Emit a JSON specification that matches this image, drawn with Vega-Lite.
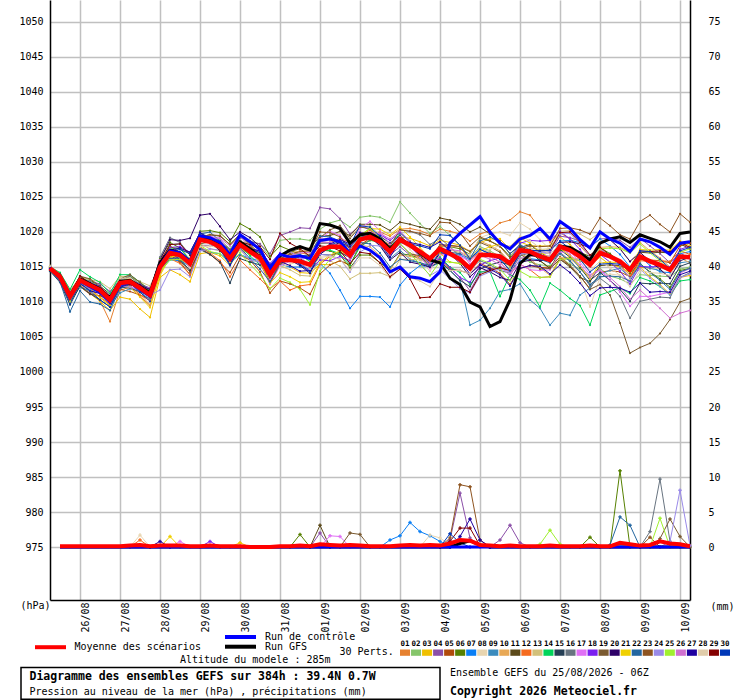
{
  "$schema": "https://vega.github.io/schema/vega-lite/v6.json",
  "width": 640,
  "height": 600,
  "autosize": "none",
  "padding": {"left": 50, "top": 0, "right": 50, "bottom": 100},
  "background": "white",
  "config": {"view": {"stroke": null}},
  "datasets": {
    "pres": [
      {"m": "01", "h": [0,6,12,18,24,30,36,42,48,54,60,66,72,78,84,90,96,102,108,114,120,126,132,138,144,150,156,162,168,174,180,186,192,198,204,210,216,222,228,234,240,246,252,258,264,270,276,282,288,294,300,306,312,318,324,330,336,342,348,354,360,366,372,378,384],
       "p": [1014.8,1013.1,1010.0,1012.4,1011.4,1010.2,1007.2,1011.7,1012.1,1010.8,1009.5,1014.2,1016.5,1016.4,1014.9,1019.2,1019.1,1018.1,1015.8,1018.8,1017.6,1017.1,1014.9,1016.5,1016.8,1017.0,1016.8,1018.4,1018.5,1019.1,1018.5,1019.9,1019.8,1020.0,1019.4,1020.4,1020.5,1020.2,1019.6,1020.4,1020.1,1019.7,1018.7,1019.7,1020.2,1021.3,1021.7,1022.9,1022.4,1020.5,1018.5,1019.9,1019.0,1018.0,1016.5,1017.6,1016.5,1015.3,1013.8,1015.0,1014.8,1014.8,1014.9,1016.1,1016.8]},
      {"m": "02", "h": [0,6,12,18,24,30,36,42,48,54,60,66,72,78,84,90,96,102,108,114,120,126,132,138,144,150,156,162,168,174,180,186,192,198,204,210,216,222,228,234,240,246,252,258,264,270,276,282,288,294,300,306,312,318,324,330,336,342,348,354,360,366,372,378,384],
       "p": [1015.0,1013.9,1011.3,1013.7,1012.8,1011.9,1010.8,1013.6,1013.7,1012.6,1011.8,1015.5,1017.8,1017.7,1016.8,1019.5,1019.1,1018.9,1017.6,1019.4,1018.7,1018.3,1016.4,1018.8,1019.0,1019.0,1018.8,1020.4,1021.3,1021.7,1020.7,1022.1,1022.3,1022.1,1021.4,1024.3,1022.7,1021.2,1019.8,1020.8,1019.5,1018.1,1016.3,1017.9,1017.3,1016.5,1015.0,1016.4,1015.7,1015.3,1015.2,1016.4,1015.4,1014.7,1013.8,1014.8,1013.7,1013.3,1012.6,1013.9,1013.8,1013.7,1013.6,1014.7,1015.0]},
      {"m": "03", "h": [0,6,12,18,24,30,36,42,48,54,60,66,72,78,84,90,96,102,108,114,120,126,132,138,144,150,156,162,168,174,180,186,192,198,204,210,216,222,228,234,240,246,252,258,264,270,276,282,288,294,300,306,312,318,324,330,336,342,348,354,360,366,372,378,384],
       "p": [1014.5,1013.4,1010.0,1012.2,1011.2,1010.1,1008.8,1010.7,1010.4,1009.0,1007.8,1013.5,1014.6,1013.9,1012.9,1016.9,1017.1,1016.6,1015.2,1017.6,1016.8,1016.1,1014.2,1015.5,1015.0,1014.2,1014.1,1015.4,1015.3,1015.9,1015.2,1018.1,1018.8,1018.6,1017.8,1019.3,1019.1,1018.6,1018.0,1018.8,1018.5,1018.1,1017.2,1018.5,1019.0,1019.0,1017.5,1018.6,1018.0,1018.0,1018.0,1019.3,1018.2,1016.9,1015.3,1016.4,1015.3,1015.0,1014.2,1015.0,1013.6,1012.5,1011.1,1013.5,1013.8]},
      {"m": "04", "h": [0,6,12,18,24,30,36,42,48,54,60,66,72,78,84,90,96,102,108,114,120,126,132,138,144,150,156,162,168,174,180,186,192,198,204,210,216,222,228,234,240,246,252,258,264,270,276,282,288,294,300,306,312,318,324,330,336,342,348,354,360,366,372,378,384],
       "p": [1014.9,1014.0,1011.7,1013.3,1012.9,1012.6,1011.5,1013.2,1013.2,1012.6,1012.0,1015.3,1016.6,1016.1,1015.3,1018.1,1018.1,1018.1,1016.8,1019.2,1018.6,1018.3,1016.9,1019.5,1020.0,1020.6,1020.5,1023.5,1023.3,1021.9,1019.7,1020.9,1020.3,1018.9,1016.7,1017.9,1016.7,1016.2,1015.7,1016.2,1014.9,1013.5,1011.6,1014.2,1014.7,1015.0,1014.3,1016.8,1017.2,1017.0,1017.0,1019.4,1019.2,1018.7,1017.8,1019.0,1019.1,1018.8,1017.8,1019.1,1018.0,1016.9,1015.6,1017.0,1016.2]},
      {"m": "05", "h": [0,6,12,18,24,30,36,42,48,54,60,66,72,78,84,90,96,102,108,114,120,126,132,138,144,150,156,162,168,174,180,186,192,198,204,210,216,222,228,234,240,246,252,258,264,270,276,282,288,294,300,306,312,318,324,330,336,342,348,354,360,366,372,378,384],
       "p": [1014.6,1013.0,1010.5,1012.2,1011.1,1010.9,1010.1,1011.8,1011.5,1011.0,1010.5,1015.0,1016.4,1015.7,1013.9,1017.7,1016.8,1015.6,1014.2,1016.7,1016.0,1014.3,1011.3,1013.0,1012.6,1012.0,1011.1,1014.0,1015.3,1015.9,1015.3,1018.1,1019.1,1019.0,1018.2,1019.4,1018.1,1016.7,1015.2,1016.0,1014.7,1014.5,1014.0,1015.5,1014.9,1014.1,1012.5,1014.8,1015.2,1014.9,1015.0,1016.4,1015.2,1013.7,1011.9,1014.2,1014.5,1014.3,1013.6,1016.1,1016.0,1015.9,1015.6,1018.0,1018.4]},
      {"m": "06", "h": [0,6,12,18,24,30,36,42,48,54,60,66,72,78,84,90,96,102,108,114,120,126,132,138,144,150,156,162,168,174,180,186,192,198,204,210,216,222,228,234,240,246,252,258,264,270,276,282,288,294,300,306,312,318,324,330,336,342,348,354,360,366,372,378,384],
       "p": [1015.1,1013.7,1010.4,1013.6,1013.2,1012.1,1010.3,1012.9,1013.6,1012.9,1011.5,1016.2,1018.5,1017.7,1016.1,1020.1,1020.2,1019.9,1018.6,1021.2,1020.4,1019.3,1016.5,1018.0,1017.4,1016.8,1015.8,1017.4,1017.3,1016.7,1014.9,1016.7,1016.7,1015.6,1014.6,1016.9,1016.7,1016.2,1015.8,1017.9,1017.9,1017.6,1016.8,1019.1,1018.7,1018.0,1016.5,1017.9,1017.2,1015.9,1014.8,1017.3,1017.4,1017.1,1016.5,1017.8,1016.9,1015.8,1014.1,1015.5,1014.3,1013.3,1012.1,1014.5,1014.8]},
      {"m": "07", "h": [0,6,12,18,24,30,36,42,48,54,60,66,72,78,84,90,96,102,108,114,120,126,132,138,144,150,156,162,168,174,180,186,192,198,204,210,216,222,228,234,240,246,252,258,264,270,276,282,288,294,300,306,312,318,324,330,336,342,348,354,360,366,372,378,384],
       "p": [1014.4,1013.3,1011.0,1012.9,1011.8,1011.5,1010.7,1012.7,1012.5,1011.8,1011.2,1014.4,1016.0,1015.9,1015.1,1017.7,1017.1,1016.9,1015.6,1016.8,1016.2,1015.9,1014.3,1015.4,1015.0,1015.0,1014.8,1015.5,1014.1,1011.7,1009.1,1010.8,1010.8,1010.7,1009.3,1012.4,1014.1,1015.2,1015.0,1017.1,1016.9,1016.7,1016.0,1017.5,1016.9,1016.1,1014.5,1015.8,1016.2,1016.0,1016.2,1018.7,1018.8,1018.5,1017.9,1019.0,1018.0,1016.8,1015.0,1016.5,1015.2,1014.3,1014.2,1016.9,1017.2]},
      {"m": "08", "h": [0,6,12,18,24,30,36,42,48,54,60,66,72,78,84,90,96,102,108,114,120,126,132,138,144,150,156,162,168,174,180,186,192,198,204,210,216,222,228,234,240,246,252,258,264,270,276,282,288,294,300,306,312,318,324,330,336,342,348,354,360,366,372,378,384],
       "p": [1014.8,1013.8,1011.4,1013.4,1012.4,1011.4,1010.5,1013.3,1013.3,1012.0,1011.4,1015.2,1016.8,1017.1,1016.3,1019.2,1018.6,1018.4,1017.2,1018.8,1017.5,1016.3,1013.4,1015.0,1015.4,1015.8,1015.9,1018.4,1019.4,1019.9,1019.2,1020.9,1020.9,1019.6,1017.7,1018.9,1017.5,1016.0,1014.4,1016.6,1016.9,1017.1,1016.8,1019.2,1019.7,1020.0,1019.5,1021.3,1020.4,1018.9,1017.5,1018.4,1016.4,1013.5,1009.3,1013.5,1014.0,1013.8,1013.1,1014.7,1014.8,1014.8,1014.6,1016.1,1016.6]},
      {"m": "09", "h": [0,6,12,18,24,30,36,42,48,54,60,66,72,78,84,90,96,102,108,114,120,126,132,138,144,150,156,162,168,174,180,186,192,198,204,210,216,222,228,234,240,246,252,258,264,270,276,282,288,294,300,306,312,318,324,330,336,342,348,354,360,366,372,378,384],
       "p": [1014.7,1013.2,1010.2,1012.1,1011.6,1011.3,1009.4,1011.3,1011.9,1011.4,1010.4,1015.4,1018.2,1018.3,1016.7,1019.9,1019.2,1017.9,1015.6,1018.0,1017.6,1017.3,1015.3,1016.8,1016.2,1015.4,1014.3,1016.8,1017.9,1018.4,1017.7,1019.4,1019.3,1018.1,1016.2,1017.4,1016.1,1015.6,1015.0,1015.6,1014.5,1013.1,1006.7,1007.4,1009.1,1011.5,1011.8,1012.6,1010.3,1009.1,1006.7,1008.4,1008.1,1011.0,1012.0,1014.0,1014.5,1014.8,1013.5,1015.2,1014.8,1014.5,1013.6,1015.6,1015.8]},
      {"m": "10", "h": [0,6,12,18,24,30,36,42,48,54,60,66,72,78,84,90,96,102,108,114,120,126,132,138,144,150,156,162,168,174,180,186,192,198,204,210,216,222,228,234,240,246,252,258,264,270,276,282,288,294,300,306,312,318,324,330,336,342,348,354,360,366,372,378,384],
       "p": [1015.0,1013.5,1010.4,1012.5,1012.1,1011.9,1009.9,1011.9,1012.4,1011.1,1009.6,1014.0,1016.5,1016.7,1016.0,1019.1,1018.4,1018.2,1017.0,1019.7,1018.2,1016.8,1013.7,1016.4,1017.0,1017.3,1017.3,1019.0,1018.9,1018.3,1016.5,1018.1,1017.9,1016.6,1014.6,1016.7,1016.5,1016.2,1015.8,1018.0,1017.9,1017.9,1017.3,1018.7,1018.1,1017.3,1015.7,1017.0,1016.2,1014.9,1013.8,1016.3,1016.4,1016.1,1015.5,1017.8,1017.9,1017.8,1017.1,1018.5,1017.3,1016.3,1015.0,1016.3,1015.6]},
      {"m": "11", "h": [0,6,12,18,24,30,36,42,48,54,60,66,72,78,84,90,96,102,108,114,120,126,132,138,144,150,156,162,168,174,180,186,192,198,204,210,216,222,228,234,240,246,252,258,264,270,276,282,288,294,300,306,312,318,324,330,336,342,348,354,360,366,372,378,384],
       "p": [1014.9,1013.9,1010.8,1012.8,1012.6,1012.3,1011.1,1013.0,1012.7,1012.2,1011.6,1016.0,1017.6,1016.9,1015.2,1019.3,1019.6,1019.4,1018.2,1019.7,1018.2,1016.8,1013.9,1016.6,1017.2,1017.6,1017.7,1019.4,1019.5,1020.1,1019.5,1021.1,1021.1,1021.0,1020.2,1021.4,1021.1,1020.7,1020.4,1022.0,1021.7,1021.1,1020.0,1020.7,1019.7,1018.7,1016.9,1018.0,1017.2,1015.9,1014.8,1016.1,1015.0,1013.5,1012.9,1015.2,1015.3,1015.2,1014.6,1017.1,1017.0,1017.1,1017.0,1018.3,1017.6]},
      {"m": "12", "h": [0,6,12,18,24,30,36,42,48,54,60,66,72,78,84,90,96,102,108,114,120,126,132,138,144,150,156,162,168,174,180,186,192,198,204,210,216,222,228,234,240,246,252,258,264,270,276,282,288,294,300,306,312,318,324,330,336,342,348,354,360,366,372,378,384],
       "p": [1014.5,1013.5,1011.1,1013.0,1011.9,1010.7,1009.7,1012.5,1012.3,1011.0,1010.2,1014.6,1016.2,1015.5,1013.9,1017.9,1017.0,1015.9,1013.6,1016.0,1014.6,1013.3,1011.9,1013.0,1011.7,1012.3,1012.5,1015.4,1016.5,1017.1,1016.5,1019.3,1020.3,1019.2,1017.2,1018.3,1016.9,1016.4,1016.0,1018.1,1018.1,1017.9,1016.0,1017.2,1016.5,1015.7,1014.1,1015.4,1014.6,1013.5,1013.6,1016.1,1016.2,1015.9,1015.3,1017.5,1016.5,1015.2,1013.4,1015.9,1015.8,1015.9,1015.8,1017.3,1016.8]},
      {"m": "13", "h": [0,6,12,18,24,30,36,42,48,54,60,66,72,78,84,90,96,102,108,114,120,126,132,138,144,150,156,162,168,174,180,186,192,198,204,210,216,222,228,234,240,246,252,258,264,270,276,282,288,294,300,306,312,318,324,330,336,342,348,354,360,366,372,378,384],
       "p": [1015.2,1014.1,1011.7,1013.5,1013.2,1012.9,1011.9,1013.7,1013.5,1012.9,1012.3,1015.2,1016.5,1016.5,1015.8,1018.3,1017.6,1017.3,1016.2,1017.4,1016.0,1015.7,1013.9,1015.2,1014.6,1013.8,1013.7,1016.2,1015.9,1015.1,1013.3,1014.1,1014.1,1014.2,1013.6,1016.1,1016.1,1016.0,1015.6,1017.6,1017.4,1017.1,1016.4,1017.7,1017.1,1016.3,1014.7,1017.2,1017.7,1017.5,1017.6,1020.1,1020.2,1019.7,1018.9,1020.0,1018.9,1017.6,1015.8,1017.1,1015.8,1014.7,1013.4,1015.9,1016.4]},
      {"m": "14", "h": [0,6,12,18,24,30,36,42,48,54,60,66,72,78,84,90,96,102,108,114,120,126,132,138,144,150,156,162,168,174,180,186,192,198,204,210,216,222,228,234,240,246,252,258,264,270,276,282,288,294,300,306,312,318,324,330,336,342,348,354,360,366,372,378,384],
       "p": [1015.0,1014.2,1011.8,1014.6,1013.6,1012.8,1011.2,1013.9,1013.9,1012.8,1011.6,1015.3,1017.6,1017.6,1016.0,1018.9,1019.0,1018.7,1016.6,1018.0,1016.6,1015.3,1013.4,1016.0,1016.6,1016.8,1015.8,1017.4,1017.4,1016.9,1015.3,1017.9,1018.8,1018.6,1017.7,1019.9,1018.7,1017.2,1015.6,1016.4,1015.0,1014.2,1012.5,1014.3,1014.3,1010.8,1013.9,1013.2,1011.7,1009.3,1012.7,1011.7,1010.5,1009.5,1006.7,1011.0,1011.5,1012.0,1011.2,1013.5,1013.0,1012.2,1011.0,1013.0,1013.2]},
      {"m": "15", "h": [0,6,12,18,24,30,36,42,48,54,60,66,72,78,84,90,96,102,108,114,120,126,132,138,144,150,156,162,168,174,180,186,192,198,204,210,216,222,228,234,240,246,252,258,264,270,276,282,288,294,300,306,312,318,324,330,336,342,348,354,360,366,372,378,384],
       "p": [1014.4,1012.8,1009.6,1012.3,1011.2,1010.3,1009.3,1012.1,1012.0,1011.5,1010.8,1015.5,1017.0,1016.1,1014.5,1017.5,1016.8,1015.7,1012.7,1016.2,1015.7,1015.3,1013.5,1016.2,1016.8,1016.2,1015.3,1016.8,1016.7,1017.1,1016.3,1018.9,1019.7,1019.4,1018.4,1019.5,1018.1,1016.6,1015.0,1015.8,1014.5,1013.1,1012.2,1014.7,1015.3,1015.7,1015.3,1017.8,1018.2,1017.1,1016.2,1017.5,1016.4,1014.9,1013.1,1014.2,1013.1,1011.8,1010.1,1012.7,1012.6,1012.7,1012.6,1015.1,1015.6]},
      {"m": "16", "h": [0,6,12,18,24,30,36,42,48,54,60,66,72,78,84,90,96,102,108,114,120,126,132,138,144,150,156,162,168,174,180,186,192,198,204,210,216,222,228,234,240,246,252,258,264,270,276,282,288,294,300,306,312,318,324,330,336,342,348,354,360,366,372,378,384],
       "p": [1015.1,1013.6,1010.6,1013.3,1013.0,1012.0,1010.2,1013.1,1013.7,1012.4,1011.0,1016.4,1019.2,1018.5,1016.7,1019.7,1018.9,1018.7,1017.5,1019.0,1017.4,1015.9,1012.9,1015.6,1016.2,1016.6,1016.7,1018.4,1018.4,1017.9,1016.2,1017.9,1018.9,1018.8,1018.0,1020.3,1020.1,1019.6,1018.2,1019.1,1017.9,1016.5,1014.6,1015.9,1015.3,1014.5,1014.1,1016.6,1017.0,1016.9,1015.8,1017.1,1015.9,1014.3,1012.3,1013.4,1012.3,1010.8,1007.7,1010.1,1010.4,1010.7,1010.6,1013.5,1014.2]},
      {"m": "17", "h": [0,6,12,18,24,30,36,42,48,54,60,66,72,78,84,90,96,102,108,114,120,126,132,138,144,150,156,162,168,174,180,186,192,198,204,210,216,222,228,234,240,246,252,258,264,270,276,282,288,294,300,306,312,318,324,330,336,342,348,354,360,366,372,378,384],
       "p": [1014.7,1013.8,1011.4,1013.1,1012.0,1011.7,1010.6,1012.4,1012.2,1011.7,1011.3,1015.8,1017.4,1016.7,1015.1,1019.1,1019.4,1019.1,1017.0,1018.5,1017.0,1015.5,1012.5,1015.2,1015.8,1016.2,1016.3,1019.0,1020.1,1019.5,1017.7,1020.5,1021.5,1020.2,1018.2,1019.3,1017.9,1016.4,1014.8,1016.8,1016.7,1016.5,1015.8,1017.1,1016.5,1015.7,1014.1,1015.4,1014.6,1014.5,1014.6,1017.1,1017.2,1015.7,1013.9,1014.6,1013.1,1011.4,1009.4,1010.8,1010.8,1011.1,1011.4,1014.1,1014.8]},
      {"m": "18", "h": [0,6,12,18,24,30,36,42,48,54,60,66,72,78,84,90,96,102,108,114,120,126,132,138,144,150,156,162,168,174,180,186,192,198,204,210,216,222,228,234,240,246,252,258,264,270,276,282,288,294,300,306,312,318,324,330,336,342,348,354,360,366,372,378,384],
       "p": [1014.8,1013.4,1010.3,1012.9,1012.6,1012.3,1010.5,1012.5,1013.1,1012.5,1011.8,1015.4,1017.8,1017.9,1017.1,1019.9,1019.0,1017.7,1015.4,1018.0,1017.6,1017.3,1015.5,1017.0,1016.4,1015.6,1014.5,1016.0,1015.9,1016.5,1015.9,1018.7,1019.7,1019.6,1018.8,1019.9,1018.5,1017.0,1015.4,1016.2,1014.9,1013.5,1012.8,1015.3,1015.9,1016.3,1015.9,1018.4,1018.8,1018.7,1018.8,1020.1,1019.0,1017.5,1015.7,1016.8,1015.7,1014.4,1012.6,1015.1,1015.0,1015.1,1015.0,1017.5,1018.0]},
      {"m": "19", "h": [0,6,12,18,24,30,36,42,48,54,60,66,72,78,84,90,96,102,108,114,120,126,132,138,144,150,156,162,168,174,180,186,192,198,204,210,216,222,228,234,240,246,252,258,264,270,276,282,288,294,300,306,312,318,324,330,336,342,348,354,360,366,372,378,384],
       "p": [1015.0,1014.0,1011.0,1013.7,1013.3,1012.3,1010.5,1013.3,1013.9,1012.8,1011.4,1015.0,1016.6,1015.9,1014.3,1018.3,1018.6,1018.5,1017.4,1018.8,1017.2,1015.7,1012.7,1015.4,1016.0,1016.4,1016.5,1019.2,1020.3,1020.9,1019.1,1020.7,1020.5,1019.2,1017.2,1018.3,1016.9,1016.6,1016.2,1018.2,1018.1,1017.9,1017.2,1018.5,1017.9,1017.1,1015.5,1016.8,1016.0,1014.7,1014.8,1016.1,1015.2,1013.7,1011.8,1012.5,1011.0,1007.0,1002.7,1003.5,1004.1,1005.5,1007.5,1010.0,1010.5]},
      {"m": "20", "h": [0,6,12,18,24,30,36,42,48,54,60,66,72,78,84,90,96,102,108,114,120,126,132,138,144,150,156,162,168,174,180,186,192,198,204,210,216,222,228,234,240,246,252,258,264,270,276,282,288,294,300,306,312,318,324,330,336,342,348,354,360,366,372,378,384],
       "p": [1014.9,1013.9,1011.2,1013.1,1012.7,1011.9,1010.8,1013.0,1013.0,1012.4,1011.8,1016.0,1018.9,1018.8,1019.1,1022.4,1022.6,1020.8,1018.9,1020.0,1019.2,1017.9,1015.1,1016.6,1016.0,1015.2,1014.1,1016.8,1017.9,1018.5,1017.9,1019.5,1019.3,1018.0,1016.0,1017.1,1015.7,1015.4,1015.0,1017.0,1016.9,1015.5,1013.6,1014.9,1014.3,1013.5,1013.1,1015.6,1016.0,1015.9,1016.0,1018.5,1018.6,1018.3,1017.7,1020.0,1018.9,1017.6,1015.8,1017.1,1015.8,1014.7,1013.4,1015.9,1016.4]},
      {"m": "21", "h": [0,6,12,18,24,30,36,42,48,54,60,66,72,78,84,90,96,102,108,114,120,126,132,138,144,150,156,162,168,174,180,186,192,198,204,210,216,222,228,234,240,246,252,258,264,270,276,282,288,294,300,306,312,318,324,330,336,342,348,354,360,366,372,378,384],
       "p": [1014.6,1013.1,1009.9,1012.7,1011.7,1010.6,1009.5,1012.3,1012.1,1010.7,1009.2,1013.8,1016.4,1016.7,1016.1,1019.1,1018.4,1018.3,1017.2,1018.8,1017.2,1015.7,1012.7,1014.2,1013.6,1012.8,1012.9,1015.6,1016.7,1017.3,1016.7,1019.5,1020.5,1020.4,1019.6,1020.7,1019.3,1017.8,1016.2,1017.0,1015.7,1015.5,1014.8,1017.3,1017.9,1018.3,1017.9,1019.2,1018.4,1017.1,1016.4,1017.7,1016.6,1015.1,1013.3,1015.6,1015.7,1015.6,1015.0,1017.5,1017.4,1017.5,1017.4,1018.7,1018.0]},
      {"m": "22", "h": [0,6,12,18,24,30,36,42,48,54,60,66,72,78,84,90,96,102,108,114,120,126,132,138,144,150,156,162,168,174,180,186,192,198,204,210,216,222,228,234,240,246,252,258,264,270,276,282,288,294,300,306,312,318,324,330,336,342,348,354,360,366,372,378,384],
       "p": [1014.5,1012.9,1008.6,1011.6,1010.0,1009.7,1008.8,1011.9,1012.5,1012.0,1011.3,1014.7,1016.2,1016.3,1015.7,1019.7,1020.0,1018.7,1016.4,1017.8,1016.2,1014.7,1012.9,1015.6,1016.2,1016.6,1016.7,1019.4,1019.3,1018.7,1016.9,1018.5,1018.3,1017.0,1015.0,1016.1,1015.9,1015.6,1015.2,1017.2,1017.1,1016.9,1016.2,1018.7,1019.3,1018.5,1016.9,1018.2,1017.4,1016.1,1015.6,1016.9,1015.8,1014.3,1012.5,1013.6,1013.7,1013.6,1013.0,1015.5,1014.2,1013.1,1011.8,1014.3,1014.8]},
      {"m": "23", "h": [0,6,12,18,24,30,36,42,48,54,60,66,72,78,84,90,96,102,108,114,120,126,132,138,144,150,156,162,168,174,180,186,192,198,204,210,216,222,228,234,240,246,252,258,264,270,276,282,288,294,300,306,312,318,324,330,336,342,348,354,360,366,372,378,384],
       "p": [1014.8,1013.7,1011.1,1013.6,1012.6,1011.5,1009.8,1012.7,1013.3,1012.2,1011.0,1015.6,1018.0,1017.1,1015.3,1019.3,1019.6,1019.5,1018.2,1019.6,1018.0,1016.5,1013.5,1016.2,1016.8,1017.2,1017.3,1020.0,1019.9,1019.3,1017.5,1019.1,1018.9,1018.8,1018.0,1020.3,1020.1,1019.8,1019.4,1021.4,1021.3,1019.9,1018.0,1019.3,1018.7,1017.9,1016.3,1017.6,1018.0,1017.9,1018.0,1020.5,1020.6,1020.3,1019.7,1022.0,1020.9,1019.6,1019.0,1021.5,1022.4,1021.1,1020.0,1022.6,1021.4]},
      {"m": "24", "h": [0,6,12,18,24,30,36,42,48,54,60,66,72,78,84,90,96,102,108,114,120,126,132,138,144,150,156,162,168,174,180,186,192,198,204,210,216,222,228,234,240,246,252,258,264,270,276,282,288,294,300,306,312,318,324,330,336,342,348,354,360,366,372,378,384],
       "p": [1015.0,1013.6,1011.1,1012.8,1011.9,1011.5,1010.5,1012.3,1012.1,1011.6,1011.0,1011.7,1014.6,1014.7,1013.6,1017.3,1017.6,1017.4,1016.2,1017.6,1016.0,1015.7,1013.9,1016.6,1017.2,1016.4,1015.3,1016.8,1016.7,1016.1,1014.3,1017.1,1018.1,1018.0,1017.2,1018.3,1016.9,1015.4,1013.8,1014.6,1013.3,1011.9,1011.3,1013.7,1014.3,1014.7,1014.3,1016.8,1017.2,1017.1,1017.2,1019.7,1019.8,1018.3,1016.5,1017.6,1016.5,1015.2,1013.4,1014.7,1013.4,1012.3,1011.0,1013.5,1014.0]},
      {"m": "25", "h": [0,6,12,18,24,30,36,42,48,54,60,66,72,78,84,90,96,102,108,114,120,126,132,138,144,150,156,162,168,174,180,186,192,198,204,210,216,222,228,234,240,246,252,258,264,270,276,282,288,294,300,306,312,318,324,330,336,342,348,354,360,366,372,378,384],
       "p": [1014.9,1013.4,1010.2,1012.9,1012.6,1011.7,1010.0,1012.8,1013.4,1012.2,1010.8,1014.4,1016.0,1016.1,1015.3,1018.1,1017.2,1016.9,1015.6,1017.0,1015.4,1013.9,1011.9,1013.4,1012.8,1011.8,1009.6,1014.4,1016.1,1017.3,1016.7,1019.5,1020.5,1019.2,1017.2,1018.3,1016.9,1015.4,1013.8,1015.8,1015.7,1015.5,1014.8,1016.1,1015.5,1014.7,1013.1,1014.4,1013.6,1013.5,1013.6,1016.1,1016.2,1015.9,1015.3,1017.6,1017.7,1017.6,1017.0,1018.3,1017.0,1015.9,1014.6,1017.1,1017.6]},
      {"m": "26", "h": [0,6,12,18,24,30,36,42,48,54,60,66,72,78,84,90,96,102,108,114,120,126,132,138,144,150,156,162,168,174,180,186,192,198,204,210,216,222,228,234,240,246,252,258,264,270,276,282,288,294,300,306,312,318,324,330,336,342,348,354,360,366,372,378,384],
       "p": [1014.6,1013.7,1011.3,1013.2,1012.1,1012.0,1011.0,1012.9,1012.7,1012.1,1011.4,1016.0,1017.6,1016.7,1014.9,1018.9,1019.2,1019.1,1018.0,1019.4,1017.8,1016.3,1013.3,1016.0,1016.6,1017.0,1017.1,1018.6,1018.5,1017.9,1016.1,1018.9,1019.9,1019.8,1019.0,1020.1,1018.7,1017.2,1015.6,1017.6,1017.5,1017.3,1015.4,1016.7,1016.1,1015.3,1013.7,1016.2,1016.6,1016.5,1016.6,1017.9,1016.8,1015.3,1013.5,1014.6,1013.5,1012.2,1010.4,1011.7,1010.4,1009.1,1007.7,1008.4,1008.8]},
      {"m": "27", "h": [0,6,12,18,24,30,36,42,48,54,60,66,72,78,84,90,96,102,108,114,120,126,132,138,144,150,156,162,168,174,180,186,192,198,204,210,216,222,228,234,240,246,252,258,264,270,276,282,288,294,300,306,312,318,324,330,336,342,348,354,360,366,372,378,384],
       "p": [1014.7,1013.3,1010.7,1012.6,1011.6,1011.2,1010.2,1012.1,1012.6,1012.1,1011.4,1014.8,1017.4,1017.7,1017.1,1019.9,1019.0,1017.7,1015.4,1018.0,1017.6,1017.3,1014.3,1015.8,1015.2,1014.4,1014.5,1017.2,1018.3,1018.9,1018.3,1019.9,1019.7,1018.4,1016.4,1018.7,1018.5,1018.2,1017.8,1018.6,1017.3,1015.9,1014.0,1015.3,1014.7,1013.9,1012.3,1014.8,1015.2,1015.1,1014.0,1015.3,1014.2,1012.7,1010.9,1012.0,1012.1,1012.0,1011.4,1012.7,1011.4,1011.5,1011.4,1013.9,1014.4]},
      {"m": "28", "h": [0,6,12,18,24,30,36,42,48,54,60,66,72,78,84,90,96,102,108,114,120,126,132,138,144,150,156,162,168,174,180,186,192,198,204,210,216,222,228,234,240,246,252,258,264,270,276,282,288,294,300,306,312,318,324,330,336,342,348,354,360,366,372,378,384],
       "p": [1015.1,1013.8,1010.8,1013.5,1012.6,1011.6,1010.6,1013.4,1013.4,1012.2,1011.1,1015.5,1017.2,1016.5,1014.9,1017.9,1018.0,1017.7,1016.4,1018.8,1018.2,1017.7,1014.9,1016.6,1016.2,1015.6,1014.7,1016.4,1016.5,1016.1,1014.5,1016.3,1016.3,1015.2,1013.4,1014.7,1013.5,1013.0,1012.2,1014.4,1014.5,1014.5,1014.0,1016.7,1017.5,1018.1,1017.9,1019.4,1018.8,1017.7,1016.8,1018.3,1017.4,1016.1,1014.5,1015.8,1014.9,1013.8,1012.2,1014.5,1014.2,1014.1,1013.8,1016.1,1016.4]},
      {"m": "29", "h": [0,6,12,18,24,30,36,42,48,54,60,66,72,78,84,90,96,102,108,114,120,126,132,138,144,150,156,162,168,174,180,186,192,198,204,210,216,222,228,234,240,246,252,258,264,270,276,282,288,294,300,306,312,318,324,330,336,342,348,354,360,366,372,378,384],
       "p": [1014.8,1013.4,1011.0,1013.7,1012.7,1011.7,1010.7,1012.7,1012.5,1011.9,1011.2,1015.8,1018.2,1018.3,1016.7,1019.5,1018.6,1017.3,1016.0,1018.6,1018.2,1017.9,1016.1,1019.8,1018.4,1017.6,1016.5,1018.0,1017.9,1017.3,1015.5,1017.1,1016.9,1015.6,1013.6,1014.7,1013.3,1010.6,1010.7,1012.6,1012.1,1012.1,1011.4,1013.9,1014.5,1014.9,1014.5,1017.0,1017.4,1017.3,1017.4,1019.9,1020.0,1018.5,1016.7,1017.8,1016.7,1015.4,1014.8,1017.3,1017.2,1017.3,1017.2,1018.5,1017.8]},
      {"m": "30", "h": [0,6,12,18,24,30,36,42,48,54,60,66,72,78,84,90,96,102,108,114,120,126,132,138,144,150,156,162,168,174,180,186,192,198,204,210,216,222,228,234,240,246,252,258,264,270,276,282,288,294,300,306,312,318,324,330,336,342,348,354,360,366,372,378,384],
       "p": [1014.6,1013.1,1009.8,1012.7,1011.6,1010.3,1009.3,1012.2,1012.7,1011.4,1010.1,1014.6,1017.2,1017.5,1016.9,1019.7,1018.8,1017.5,1015.2,1017.8,1017.4,1017.1,1015.3,1016.8,1016.2,1015.4,1014.3,1017.0,1018.1,1018.7,1018.1,1020.9,1020.7,1019.4,1017.4,1018.5,1018.3,1018.0,1017.6,1019.6,1019.5,1018.1,1016.2,1017.5,1016.9,1016.1,1014.5,1017.0,1017.4,1017.3,1017.4,1018.7,1017.6,1016.1,1014.3,1015.4,1015.5,1015.4,1014.8,1017.3,1017.2,1016.1,1014.8,1017.3,1017.8]}
    ],
    "runs": [
      {"m": "gfs", "h": [0,6,12,18,24,30,36,42,48,54,60,66,72,78,84,90,96,102,108,114,120,126,132,138,144,150,156,162,168,174,180,186,192,198,204,210,216,222,228,234,240,246,252,258,264,270,276,282,288,294,300,306,312,318,324,330,336,342,348,354,360,366,372,378,384],
       "p": [1014.7,1013.7,1011.0,1013.3,1012.6,1011.9,1010.6,1012.9,1013.1,1012.2,1011.3,1015.6,1017.4,1017.0,1015.8,1019.3,1019.0,1018.2,1016.5,1018.6,1017.6,1016.4,1014.4,1016.6,1017.4,1017.9,1017.4,1021.2,1021.0,1020.5,1018.4,1019.6,1019.8,1019.0,1017.6,1019.0,1018.2,1017.0,1016.0,1015.6,1013.4,1012.5,1010.0,1009.3,1006.5,1007.2,1010.3,1015.5,1016.8,1016.6,1016.0,1018.0,1017.8,1017.0,1016.0,1018.4,1019.0,1019.3,1018.5,1019.6,1019.1,1018.6,1017.8,1019.8,1020.0]},
      {"m": "ctl", "h": [0,6,12,18,24,30,36,42,48,54,60,66,72,78,84,90,96,102,108,114,120,126,132,138,144,150,156,162,168,174,180,186,192,198,204,210,216,222,228,234,240,246,252,258,264,270,276,282,288,294,300,306,312,318,324,330,336,342,348,354,360,366,372,378,384],
       "p": [1014.9,1013.5,1010.6,1013.0,1012.2,1011.4,1010.0,1012.5,1012.8,1011.8,1010.8,1015.2,1017.3,1017.0,1015.8,1019.4,1019.2,1018.5,1016.8,1019.6,1018.6,1017.5,1014.8,1016.8,1016.4,1016.6,1016.2,1018.8,1019.0,1018.6,1017.0,1018.0,1017.4,1016.3,1014.3,1015.0,1013.6,1013.4,1012.9,1014.3,1018.4,1019.8,1021.0,1022.2,1020.0,1018.4,1017.6,1019.0,1019.5,1020.5,1019.0,1021.5,1020.5,1018.9,1017.7,1020.0,1019.0,1018.4,1017.2,1019.0,1018.6,1017.8,1016.8,1018.4,1018.6]},
      {"m": "moy", "h": [0,6,12,18,24,30,36,42,48,54,60,66,72,78,84,90,96,102,108,114,120,126,132,138,144,150,156,162,168,174,180,186,192,198,204,210,216,222,228,234,240,246,252,258,264,270,276,282,288,294,300,306,312,318,324,330,336,342,348,354,360,366,372,378,384],
       "p": [1014.8,1013.6,1010.8,1013.1,1012.4,1011.7,1010.3,1012.7,1012.9,1012.0,1011.0,1015.0,1017.0,1016.7,1015.5,1018.9,1018.6,1017.9,1016.2,1018.2,1017.2,1016.3,1013.9,1016.0,1016.0,1015.8,1015.3,1017.4,1017.9,1017.9,1016.7,1018.9,1019.3,1018.6,1017.2,1018.9,1018.1,1017.2,1016.2,1017.6,1016.9,1016.1,1014.8,1016.7,1016.7,1016.5,1015.5,1017.4,1017.2,1016.5,1016.0,1017.9,1017.4,1016.5,1015.3,1017.0,1016.5,1015.8,1014.6,1016.5,1015.8,1015.3,1014.6,1016.5,1016.4]}
    ],
    "prec": [
      {"m": "03", "h": [108,114,120], "v": [0,0.6,0]},
      {"m": "04", "h": [156,162,168,234,240,246,252,258,264,270,276,282,288], "v": [0,2.0,0,0,1.0,7.7,1.3,0,0,1.0,3.1,0.6,0]},
      {"m": "06", "h": [144,150,156,318,324,330,336,342,348], "v": [0,1.8,0,0,1.4,0,0,10.9,0]},
      {"m": "07", "h": [198,204,210,216,222,228,234,240], "v": [0,1.0,1.6,3.5,2.2,1.6,0.8,0]},
      {"m": "08", "h": [48,54,60,222,228,234,240,246], "v": [0,1.7,0,0,1.7,1.3,0.3,0]},
      {"m": "11", "h": [156,162,168], "v": [0,3.1,0]},
      {"m": "12", "h": [48,54,60], "v": [0,1.0,0]},
      {"m": "16", "h": [354,360,366,372,378], "v": [0,2.2,9.7,0.8,0]},
      {"m": "17", "h": [72,78,84,162,168,174,180], "v": [0,0.8,0,0,1.6,1.5,0]},
      {"m": "18", "h": [90,96,102], "v": [0,0.8,0]},
      {"m": "19", "h": [174,180,186,192,360,366,372,378,384], "v": [0,2.0,1.8,0,0,1.2,4.0,1.5,0]},
      {"m": "21", "h": [66,72,78], "v": [0,1.5,0]},
      {"m": "22", "h": [330,336,342,348,354], "v": [0,0.3,4.3,3.1,0]},
      {"m": "23", "h": [234,240,246,252,258,264,354,360,366], "v": [0,1.3,8.9,8.6,1.0,0,0,1.4,0]},
      {"m": "24", "h": [366,372,378,384], "v": [0,0.8,8.1,0.2]},
      {"m": "25", "h": [288,294,300,306,312,360,366,372], "v": [0,0.4,2.4,0.4,0,0,4.1,0]},
      {"m": "27", "h": [60,66,72,240,246,252,258,264], "v": [0,0.8,0,0,1.5,4.0,1.0,0]},
      {"m": "29", "h": [234,240,246,252,258,264], "v": [0,0.8,2.7,2.7,0.2,0]},
      {"m": "30", "h": [234,240,246,252], "v": [0,1.9,0.6,0]}
    ],
    "runsp": [
      {"m": "gfs", "h": [6,240,246,252,258,264,384], "v": [0,0,0.5,0.9,0.3,0,0]},
      {"m": "ctl", "h": [6,384], "v": [0,0]},
      {"m": "moy", "h": [6,12,18,24,30,36,42,48,54,60,66,72,78,84,90,96,102,108,114,120,126,132,138,144,150,156,162,168,174,180,186,192,198,204,210,216,222,228,234,240,246,252,258,264,270,276,282,288,294,300,306,312,318,324,330,336,342,348,354,360,366,372,378,384],
       "v": [0.1,0.1,0.1,0.1,0.1,0.1,0.1,0.2,0.3,0.1,0.2,0.2,0.2,0.1,0.1,0.2,0.1,0.1,0.1,0.0,0.0,0.0,0.1,0.1,0.2,0.1,0.4,0.3,0.2,0.3,0.2,0.1,0.1,0.1,0.2,0.3,0.2,0.3,0.2,0.5,1.0,0.9,0.3,0.2,0.1,0.2,0.1,0.1,0.1,0.2,0.1,0.1,0.1,0.2,0.1,0.1,0.6,0.4,0.2,0.3,0.8,0.5,0.4,0.1]}
    ],
    "perts": [
      {"m": "01"},{"m": "02"},{"m": "03"},{"m": "04"},{"m": "05"},{"m": "06"},{"m": "07"},{"m": "08"},{"m": "09"},{"m": "10"},
      {"m": "11"},{"m": "12"},{"m": "13"},{"m": "14"},{"m": "15"},{"m": "16"},{"m": "17"},{"m": "18"},{"m": "19"},{"m": "20"},
      {"m": "21"},{"m": "22"},{"m": "23"},{"m": "24"},{"m": "25"},{"m": "26"},{"m": "27"},{"m": "28"},{"m": "29"},{"m": "30"}
    ]
  },
  "layer": [
    {
      "encoding": {
        "x": {
          "field": "h", "type": "quantitative",
          "scale": {"domain": [0, 384], "nice": false, "zero": false},
          "axis": {
            "values": [18,42,66,90,114,138,162,186,210,234,258,282,306,330,354,378],
            "labelExpr": "['26/08','27/08','28/08','29/08','30/08','31/08','01/09','02/09','03/09','04/09','05/09','06/09','07/09','08/09','09/09','10/09'][(datum.value-18)/24]",
            "grid": true, "gridColor": "#c0c0c0", "gridWidth": 1.5,
            "ticks": false, "domainColor": "#000000", "domainWidth": 1.5,
            "labelAngle": 270, "labelAlign": "right", "labelBaseline": "top", "labelPadding": 2,
            "labelFont": "DejaVu Sans Mono", "labelFontSize": 10, "labelColor": "#000000",
            "labelOverlap": false, "labelFlush": false, "title": null
          }
        },
        "y": {
          "field": "p", "type": "quantitative",
          "scale": {"domain": [967.43, 1053.14], "nice": false, "zero": false},
          "axis": {
            "values": [975,980,985,990,995,1000,1005,1010,1015,1020,1025,1030,1035,1040,1045,1050],
            "format": "d",
            "grid": true, "gridColor": "#c0c0c0", "gridWidth": 1.5,
            "ticks": false, "domainColor": "#000000", "domainWidth": 1.5,
            "labelPadding": 7, "labelFont": "DejaVu Sans Mono", "labelFontSize": 10, "labelColor": "#000000",
            "labelOverlap": false, "labelFlush": false,
            "title": "(hPa)", "titleAngle": 0, "titleX": -30, "titleY": 605,
            "titleAlign": "left", "titleBaseline": "middle",
            "titleFont": "DejaVu Sans Mono", "titleFontSize": 10, "titleFontWeight": "normal", "titleColor": "#000000"
          }
        }
      },
      "layer": [
        {
          "data": {"name": "pres"},
          "transform": [{"flatten": ["h", "p"]}],
          "mark": {"type": "line", "strokeWidth": 1, "point": {"filled": true, "size": 5}},
          "encoding": {
            "color": {
              "field": "m", "type": "nominal", "legend": null,
              "scale": {
                "domain": ["01","02","03","04","05","06","07","08","09","10","11","12","13","14","15","16","17","18","19","20","21","22","23","24","25","26","27","28","29","30"],
                "range": ["#e6812f","#85c56a","#f0c000","#8b4fa8","#b04a0a","#568000","#0a7ff5","#e8d5b0","#3b8bbd","#e8a855","#5c4a1a","#f56a1e","#d2c07a","#00d45a","#253f55","#687480","#e070f5","#7a1ef0","#7a5a30","#2e0068","#f0d000","#2366a0","#8e5420","#9a8ae8","#a0f030","#d070d0","#1e00a0","#e0ccaa","#840000","#0038b8"]
              }
            }
          }
        },
        {
          "data": {"name": "runs"},
          "transform": [{"filter": "datum.m == 'gfs'"}, {"flatten": ["h", "p"]}],
          "mark": {"type": "line", "color": "#000000", "strokeWidth": 3}
        },
        {
          "data": {"name": "runs"},
          "transform": [{"filter": "datum.m == 'ctl'"}, {"flatten": ["h", "p"]}],
          "mark": {"type": "line", "color": "#0000ff", "strokeWidth": 3}
        },
        {
          "data": {"name": "runs"},
          "transform": [{"filter": "datum.m == 'moy'"}, {"flatten": ["h", "p"]}],
          "mark": {"type": "line", "color": "#ff0000", "strokeWidth": 4.5}
        },
        {
          "data": {"values": [{}]},
          "mark": {"type": "text", "align": "left", "baseline": "middle", "font": "DejaVu Sans Mono", "fontSize": 10, "color": "#000000"},
          "encoding": {"x": {"datum": 5.4}, "y": {"datum": 1016.3}, "text": {"value": "Pression"}}
        },
        {
          "data": {"values": [{}]},
          "mark": {"type": "text", "align": "left", "baseline": "middle", "font": "DejaVu Sans Mono", "fontSize": 10, "color": "#000000"},
          "encoding": {"x": {"datum": 5.4}, "y": {"datum": 977.9}, "text": {"value": "Précipitations"}}
        }
      ]
    },
    {
      "encoding": {
        "x": {"field": "h", "type": "quantitative", "scale": {"domain": [0, 384], "nice": false, "zero": false}, "axis": null},
        "y": {
          "field": "v", "type": "quantitative",
          "scale": {"domain": [-7.57, 78.14], "nice": false, "zero": false},
          "axis": {
            "orient": "right",
            "values": [0,5,10,15,20,25,30,35,40,45,50,55,60,65,70,75],
            "format": "d",
            "grid": false, "ticks": false, "domainColor": "#000000", "domainWidth": 1.5,
            "labelPadding": 18, "labelFont": "DejaVu Sans Mono", "labelFontSize": 10, "labelColor": "#000000",
            "labelOverlap": false, "labelFlush": false,
            "title": "(mm)", "titleAngle": 0, "titleX": 20, "titleY": 606,
            "titleAlign": "left", "titleBaseline": "middle",
            "titleFont": "DejaVu Sans Mono", "titleFontSize": 10, "titleFontWeight": "normal", "titleColor": "#000000"
          }
        }
      },
      "layer": [
        {
          "data": {"name": "prec"},
          "transform": [{"flatten": ["h", "v"]}],
          "mark": {"type": "line", "strokeWidth": 1, "point": {"shape": "cross", "filled": true, "size": 12}},
          "encoding": {
            "color": {
              "field": "m", "type": "nominal", "legend": null,
              "scale": {
                "domain": ["01","02","03","04","05","06","07","08","09","10","11","12","13","14","15","16","17","18","19","20","21","22","23","24","25","26","27","28","29","30"],
                "range": ["#e6812f","#85c56a","#f0c000","#8b4fa8","#b04a0a","#568000","#0a7ff5","#e8d5b0","#3b8bbd","#e8a855","#5c4a1a","#f56a1e","#d2c07a","#00d45a","#253f55","#687480","#e070f5","#7a1ef0","#7a5a30","#2e0068","#f0d000","#2366a0","#8e5420","#9a8ae8","#a0f030","#d070d0","#1e00a0","#e0ccaa","#840000","#0038b8"]
              }
            }
          }
        },
        {
          "data": {"name": "runsp"},
          "transform": [{"filter": "datum.m == 'gfs'"}, {"flatten": ["h", "v"]}],
          "mark": {"type": "line", "color": "#000000", "strokeWidth": 3}
        },
        {
          "data": {"name": "runsp"},
          "transform": [{"filter": "datum.m == 'ctl'"}, {"flatten": ["h", "v"]}],
          "mark": {"type": "line", "color": "#0000ff", "strokeWidth": 3}
        },
        {
          "data": {"name": "runsp"},
          "transform": [{"filter": "datum.m == 'moy'"}, {"flatten": ["h", "v"]}],
          "mark": {"type": "line", "color": "#ff0000", "strokeWidth": 4}
        }
      ]
    },
    {
      "data": {"values": [{}]},
      "layer": [
        {
          "mark": {"type": "rule", "color": "#ff0000", "strokeWidth": 4},
          "encoding": {
            "x": {"datum": 35, "type": "quantitative", "scale": {"domain": [50, 690], "nice": false, "zero": false}, "axis": null},
            "x2": {"datum": 66},
            "y": {"datum": 647.2, "type": "quantitative", "scale": {"domain": [0, 600], "nice": false, "zero": false, "reverse": true}, "axis": null}
          }
        },
        {
          "mark": {"type": "rule", "color": "#0000ff", "strokeWidth": 4},
          "encoding": {
            "x": {"datum": 225, "type": "quantitative", "scale": {"domain": [50, 690], "nice": false, "zero": false}, "axis": null},
            "x2": {"datum": 256},
            "y": {"datum": 637, "type": "quantitative", "scale": {"domain": [0, 600], "nice": false, "zero": false, "reverse": true}, "axis": null}
          }
        },
        {
          "mark": {"type": "rule", "color": "#000000", "strokeWidth": 4},
          "encoding": {
            "x": {"datum": 225, "type": "quantitative", "scale": {"domain": [50, 690], "nice": false, "zero": false}, "axis": null},
            "x2": {"datum": 256},
            "y": {"datum": 646.7, "type": "quantitative", "scale": {"domain": [0, 600], "nice": false, "zero": false, "reverse": true}, "axis": null}
          }
        },
        {
          "mark": {"type": "rect", "filled": false, "stroke": "#000000", "strokeWidth": 1.5},
          "encoding": {
            "x": {"datum": 21, "type": "quantitative", "scale": {"domain": [50, 690], "nice": false, "zero": false}, "axis": null},
            "x2": {"datum": 440},
            "y": {"datum": 667.5, "type": "quantitative", "scale": {"domain": [0, 600], "nice": false, "zero": false, "reverse": true}, "axis": null},
            "y2": {"datum": 699.3}
          }
        },
        {
          "mark": {"type": "text", "align": "left", "baseline": "middle", "font": "DejaVu Sans Mono", "fontSize": 10, "color": "#000000"},
          "encoding": {
            "x": {"datum": 74.5, "type": "quantitative", "scale": {"domain": [50, 690], "nice": false, "zero": false}, "axis": null},
            "y": {"datum": 647.3, "type": "quantitative", "scale": {"domain": [0, 600], "nice": false, "zero": false, "reverse": true}, "axis": null},
            "text": {"value": "Moyenne des scénarios"}
          }
        },
        {
          "mark": {"type": "text", "align": "left", "baseline": "middle", "font": "DejaVu Sans Mono", "fontSize": 10, "color": "#000000"},
          "encoding": {
            "x": {"datum": 265, "type": "quantitative", "scale": {"domain": [50, 690], "nice": false, "zero": false}, "axis": null},
            "y": {"datum": 637, "type": "quantitative", "scale": {"domain": [0, 600], "nice": false, "zero": false, "reverse": true}, "axis": null},
            "text": {"value": "Run de contrôle"}
          }
        },
        {
          "mark": {"type": "text", "align": "left", "baseline": "middle", "font": "DejaVu Sans Mono", "fontSize": 10, "color": "#000000"},
          "encoding": {
            "x": {"datum": 265, "type": "quantitative", "scale": {"domain": [50, 690], "nice": false, "zero": false}, "axis": null},
            "y": {"datum": 647.3, "type": "quantitative", "scale": {"domain": [0, 600], "nice": false, "zero": false, "reverse": true}, "axis": null},
            "text": {"value": "Run GFS"}
          }
        },
        {
          "mark": {"type": "text", "align": "left", "baseline": "middle", "font": "DejaVu Sans Mono", "fontSize": 10, "color": "#000000"},
          "encoding": {
            "x": {"datum": 339.5, "type": "quantitative", "scale": {"domain": [50, 690], "nice": false, "zero": false}, "axis": null},
            "y": {"datum": 652, "type": "quantitative", "scale": {"domain": [0, 600], "nice": false, "zero": false, "reverse": true}, "axis": null},
            "text": {"value": "30 Perts."}
          }
        },
        {
          "mark": {"type": "text", "align": "left", "baseline": "middle", "font": "DejaVu Sans Mono", "fontSize": 10, "color": "#000000"},
          "encoding": {
            "x": {"datum": 180, "type": "quantitative", "scale": {"domain": [50, 690], "nice": false, "zero": false}, "axis": null},
            "y": {"datum": 660, "type": "quantitative", "scale": {"domain": [0, 600], "nice": false, "zero": false, "reverse": true}, "axis": null},
            "text": {"value": "Altitude du modele : 285m"}
          }
        },
        {
          "mark": {"type": "text", "align": "left", "baseline": "middle", "font": "DejaVu Sans Mono", "fontSize": 11.5, "fontWeight": "bold", "color": "#000000"},
          "encoding": {
            "x": {"datum": 29.5, "type": "quantitative", "scale": {"domain": [50, 690], "nice": false, "zero": false}, "axis": null},
            "y": {"datum": 677.3, "type": "quantitative", "scale": {"domain": [0, 600], "nice": false, "zero": false, "reverse": true}, "axis": null},
            "text": {"value": "Diagramme des ensembles GEFS sur 384h : 39.4N 0.7W"}
          }
        },
        {
          "mark": {"type": "text", "align": "left", "baseline": "middle", "font": "DejaVu Sans Mono", "fontSize": 10, "color": "#000000"},
          "encoding": {
            "x": {"datum": 29.5, "type": "quantitative", "scale": {"domain": [50, 690], "nice": false, "zero": false}, "axis": null},
            "y": {"datum": 691.7, "type": "quantitative", "scale": {"domain": [0, 600], "nice": false, "zero": false, "reverse": true}, "axis": null},
            "text": {"value": "Pression au niveau de la mer (hPa) , précipitations (mm)"}
          }
        },
        {
          "mark": {"type": "text", "align": "left", "baseline": "middle", "font": "DejaVu Sans Mono", "fontSize": 10, "color": "#000000"},
          "encoding": {
            "x": {"datum": 450, "type": "quantitative", "scale": {"domain": [50, 690], "nice": false, "zero": false}, "axis": null},
            "y": {"datum": 672.7, "type": "quantitative", "scale": {"domain": [0, 600], "nice": false, "zero": false, "reverse": true}, "axis": null},
            "text": {"value": "Ensemble GEFS du 25/08/2026 - 06Z"}
          }
        },
        {
          "mark": {"type": "text", "align": "left", "baseline": "middle", "font": "DejaVu Sans Mono", "fontSize": 11.5, "fontWeight": "bold", "color": "#000000"},
          "encoding": {
            "x": {"datum": 450, "type": "quantitative", "scale": {"domain": [50, 690], "nice": false, "zero": false}, "axis": null},
            "y": {"datum": 691.7, "type": "quantitative", "scale": {"domain": [0, 600], "nice": false, "zero": false, "reverse": true}, "axis": null},
            "text": {"value": "Copyright 2026 Meteociel.fr"}
          }
        }
      ]
    },
    {
      "data": {"name": "perts"},
      "encoding": {
        "x": {
          "field": "m", "type": "nominal",
          "scale": {"range": [350, 680], "paddingInner": 0.09, "paddingOuter": 0},
          "axis": null
        }
      },
      "layer": [
        {
          "mark": {"type": "bar"},
          "encoding": {
            "y": {"datum": 649.5, "type": "quantitative", "scale": {"domain": [0, 600], "nice": false, "zero": false, "reverse": true}, "axis": null},
            "y2": {"datum": 655.8},
            "color": {
              "field": "m", "type": "nominal", "legend": null,
              "scale": {
                "domain": ["01","02","03","04","05","06","07","08","09","10","11","12","13","14","15","16","17","18","19","20","21","22","23","24","25","26","27","28","29","30"],
                "range": ["#e6812f","#85c56a","#f0c000","#8b4fa8","#b04a0a","#568000","#0a7ff5","#e8d5b0","#3b8bbd","#e8a855","#5c4a1a","#f56a1e","#d2c07a","#00d45a","#253f55","#687480","#e070f5","#7a1ef0","#7a5a30","#2e0068","#f0d000","#2366a0","#8e5420","#9a8ae8","#a0f030","#d070d0","#1e00a0","#e0ccaa","#840000","#0038b8"]
              }
            }
          }
        },
        {
          "mark": {"type": "text", "baseline": "middle", "font": "DejaVu Sans Mono", "fontSize": 7.5, "fontWeight": "bold", "color": "#000000"},
          "encoding": {
            "y": {"datum": 643.5, "type": "quantitative", "scale": {"domain": [0, 600], "nice": false, "zero": false, "reverse": true}, "axis": null},
            "text": {"field": "m"}
          }
        }
      ]
    }
  ],
  "resolve": {
    "scale": {"x": "independent", "y": "independent"},
    "axis": {"x": "independent", "y": "independent"}
  }
}
